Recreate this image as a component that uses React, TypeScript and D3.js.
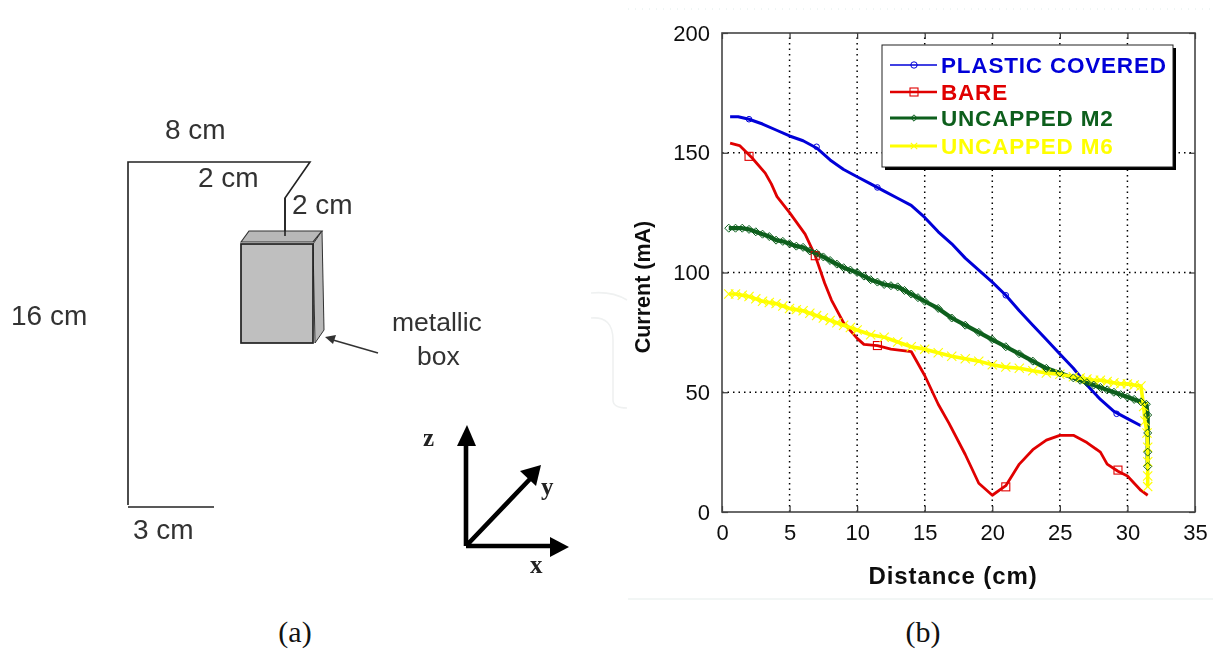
import { useEffect, useRef } from 'react';
import * as d3 from 'd3';

type Pt = [number, number];

const xTicks = [0, 5, 10, 15, 20, 25, 30, 35];
const yTicks = [0, 50, 100, 150, 200];

const plastic: Pt[] = [[0.6, 165], [1.2, 165], [2, 164], [3, 162], [4, 159.5], [5, 157], [6, 155], [7, 152], [8, 147], [9, 143], [10, 140], [11, 137], [12, 134], [13, 131], [14, 128], [15, 123], [16, 117], [17, 112], [18, 106], [19, 101], [20, 96], [21, 90.5], [22, 84], [23, 78], [24, 72], [25, 66], [26, 60], [27, 53], [28, 47], [29, 42], [30, 39], [31, 36]];
const plasticMarks: Pt[] = [[2, 164], [7, 152.5], [11.5, 135.5], [21, 90.5], [29.2, 41]];

const bare: Pt[] = [[0.6, 154], [1.3, 153], [2.2, 148], [3.2, 141.5], [3.65, 137], [4.07, 131.7], [5, 125], [6.15, 116], [6.9, 107], [7.6, 95.5], [8.1, 88.5], [9, 79], [10, 72.5], [10.5, 70], [11.5, 69.5], [12.5, 68], [14, 67], [15, 57], [16, 45], [16.8, 37], [18, 24], [19, 12], [20, 7], [21, 11], [22, 20], [23, 26], [24, 30], [25, 32], [26, 32], [27, 29], [28, 25], [28.5, 20], [29.3, 17], [30, 15], [31, 9], [31.5, 7]];
const bareMarks: Pt[] = [[2, 148.5], [6.9, 107], [11.5, 69.5], [21, 10.5], [29.3, 17.5]];

const m2: Pt[] = [[0.5, 118.5], [1, 118.5], [1.5, 118.5], [2, 118], [2.5, 117], [3, 116], [3.5, 115], [4, 113.5], [4.5, 113], [5, 112], [5.5, 111], [6, 110.5], [6.5, 109], [7, 108], [7.5, 106.5], [8, 105], [8.5, 103.5], [9, 102], [9.5, 101], [10, 100], [10.5, 98.5], [11, 97], [11.5, 96], [12, 95], [12.5, 94.5], [13, 94], [13.5, 92.5], [14, 91], [14.5, 89.5], [15, 88], [16, 85], [17, 81], [18, 78], [19, 75], [20, 72], [21, 69], [22, 66], [23, 63], [24, 60], [25, 58], [26, 56], [26.5, 55], [27, 54], [27.5, 53], [28, 52], [28.5, 51], [29, 50], [29.5, 49], [30, 48], [30.5, 47], [31, 46], [31.4, 45], [31.5, 40.5], [31.5, 33], [31.5, 25], [31.5, 19]];

const m6: Pt[] = [[0.5, 91], [1, 91], [1.5, 90.5], [2, 90], [2.5, 89], [3, 88], [3.5, 87.5], [4, 87], [4.5, 86], [5, 85], [5.5, 84.5], [6, 84], [6.5, 83], [7, 82], [7.5, 81], [8, 80], [8.5, 79], [9, 78], [9.5, 77], [10, 76], [11, 74], [12, 73], [13, 71], [14, 69], [15, 68], [16, 66.5], [17, 65], [18, 64], [19, 63], [20, 61.5], [21, 60.5], [22, 60], [23, 59], [24, 58], [25, 57.5], [26, 56.5], [26.5, 56], [27, 55.5], [27.5, 55], [28, 55], [28.5, 54.5], [29, 54], [29.5, 53.5], [30, 53.5], [30.5, 53], [31, 52.6], [31.2, 44], [31.3, 38], [31.45, 33], [31.5, 27], [31.5, 21], [31.5, 15], [31.5, 10.6]];

const seriesNames = ['PLASTIC COVERED', 'BARE', 'UNCAPPED M2', 'UNCAPPED M6'];
const seriesColors = ['#0000d8', '#e00000', '#0b5e1c', '#ffff00'];

const sans = '"Liberation Sans", Arial, sans-serif';
const serif = '"Liberation Serif", serif';

function drawMark(g: any, kind: string, x: number, y: number, color: string, r: number) {
  if (kind === 'circle') {
    g.append('circle').attr('cx', x).attr('cy', y).attr('r', r).attr('fill', 'none').attr('stroke', color).attr('stroke-width', 1);
  } else if (kind === 'square') {
    g.append('rect').attr('x', x - r).attr('y', y - r).attr('width', r * 2).attr('height', r * 2).attr('fill', 'none').attr('stroke', color).attr('stroke-width', 1.1);
  } else if (kind === 'diamond') {
    g.append('path').attr('d', `M${x},${y - r}L${x + r},${y}L${x},${y + r}L${x - r},${y}Z`).attr('fill', 'none').attr('stroke', color).attr('stroke-width', 1);
  } else {
    g.append('path').attr('d', `M${x - r},${y - r}L${x + r},${y + r}M${x - r},${y + r}L${x + r},${y - r}`).attr('fill', 'none').attr('stroke', color).attr('stroke-width', 1.1);
  }
}

export default function App() {
  const ref = useRef<SVGSVGElement>(null);

  useEffect(() => {
    const svg = d3.select(ref.current);
    svg.selectAll('*').remove();

    // slight softening, the source picture is an upscaled bitmap
    svg.append('defs').append('filter').attr('id', 'soft')
      .append('feGaussianBlur').attr('stdDeviation', 0.45);

    // --- panel (a): the schematic ---
    const a = svg.append('g').attr('filter', 'url(#soft)');
    a.append('path').attr('d', 'M128,505V162H310L285,198V236').attr('fill', 'none').attr('stroke', '#222').attr('stroke-width', 1.6);
    a.append('path').attr('d', 'M128,507H214').attr('stroke', '#222').attr('stroke-width', 1.6);
    a.append('path').attr('d', 'M241,242L249,231H322L313,242Z').attr('fill', '#b8b8b8').attr('stroke', '#333').attr('stroke-width', 1.2);
    a.append('path').attr('d', 'M313,244L322,231L324,330L315,343Z').attr('fill', '#b8b8b8').attr('stroke', '#333').attr('stroke-width', 1);
    a.append('rect').attr('x', 241).attr('y', 244).attr('width', 72).attr('height', 99).attr('fill', '#bfbfbf').attr('stroke', '#222').attr('stroke-width', 1.7);
    a.append('path').attr('d', 'M285,198V236').attr('stroke', '#222').attr('stroke-width', 1.6);
    a.append('path').attr('d', 'M378,353L333,340').attr('stroke', '#333').attr('stroke-width', 1.6);
    a.append('path').attr('d', 'M325,337L336,335L333,344Z').attr('fill', '#333');

    const labels: [string, number, number, number][] = [
      ['8 cm', 165, 139, 28], ['2 cm', 198, 187, 28], ['2 cm', 292, 214, 28],
      ['16 cm', 11, 325, 28], ['3 cm', 133, 539, 28], ['metallic', 392, 331, 26.5], ['box', 417, 365, 26.5],
    ];
    labels.forEach(([t, x, y, s]) => {
      a.append('text').attr('x', x).attr('y', y).attr('font-family', sans).attr('font-size', s).attr('fill', '#333').text(t);
    });

    // axes triad
    a.append('path').attr('d', 'M466,546V440M466,546H555M466,546L530,479').attr('fill', 'none').attr('stroke', '#000').attr('stroke-width', 4.6).attr('stroke-linejoin', 'round');
    a.append('path').attr('d', 'M467,425L476,446H457Z').attr('fill', '#000');
    a.append('path').attr('d', 'M569,547L550,557V537Z').attr('fill', '#000');
    a.append('path').attr('d', 'M541,465L536,486L520,471Z').attr('fill', '#000');
    ([['z', 423, 446], ['y', 541, 495], ['x', 530, 573]] as [string, number, number][]).forEach(([t, x, y]) => {
      a.append('text').attr('x', x).attr('y', y).attr('font-family', serif).attr('font-weight', 700).attr('font-size', 25).attr('fill', '#222').text(t);
    });

    // --- panel (b): current vs distance ---
    const left = 722, right = 1195, top = 33, bottom = 512;
    const x = d3.scaleLinear().domain([0, 35]).range([left, right]);
    const y = d3.scaleLinear().domain([0, 200]).range([bottom, top]);

    const b = svg.append('g').attr('filter', 'url(#soft)');
    b.append('line').attr('x1', 628).attr('x2', 1213).attr('y1', 9).attr('y2', 9).attr('stroke', '#dfecea').attr('stroke-dasharray', '1 6');
    b.append('line').attr('x1', 628).attr('x2', 1213).attr('y1', 599).attr('y2', 599).attr('stroke', '#eef3f2').attr('stroke-width', 1.5);
    // faint watermark remains at the panel edge
    b.append('path').attr('d', 'M591,293Q612,291 627,300M591,318Q613,316 613,340V400Q613,408 627,408').attr('fill', 'none').attr('stroke', '#eff1f1').attr('stroke-width', 1.6);

    // grid
    const grid = b.append('g').attr('stroke', '#000').attr('stroke-dasharray', '1.5 4').attr('stroke-width', 1.5);
    xTicks.slice(1, -1).forEach(t => {
      grid.append('line').attr('x1', x(t)).attr('x2', x(t)).attr('y1', bottom).attr('y2', top);
    });
    yTicks.slice(1, -1).forEach(t => {
      grid.append('line').attr('x1', left).attr('x2', right).attr('y1', y(t)).attr('y2', y(t));
    });

    const styleAxis = (g: any) => {
      g.select('.domain').remove();
      g.selectAll('line').attr('stroke', '#333').attr('stroke-width', 1.2);
      g.selectAll('text').attr('font-family', sans).attr('font-size', 22).attr('fill', '#111');
    };

    b.append('g').attr('transform', `translate(0,${bottom})`)
      .call(d3.axisBottom(x).tickValues(xTicks).tickSize(-6).tickPadding(12).tickFormat(d3.format('d')) as any)
      .call(styleAxis);
    b.append('g').attr('transform', `translate(0,${top})`)
      .call(d3.axisTop(x).tickValues(xTicks).tickSize(-6).tickFormat(() => '') as any)
      .call(styleAxis);
    b.append('g').attr('transform', `translate(${left},0)`)
      .call(d3.axisLeft(y).tickValues(yTicks).tickSize(-6).tickPadding(12).tickFormat(d3.format('d')) as any)
      .call(styleAxis);
    b.append('g').attr('transform', `translate(${right},0)`)
      .call(d3.axisRight(y).tickValues(yTicks).tickSize(-6).tickFormat(() => '') as any)
      .call(styleAxis);
    b.append('rect').attr('x', left).attr('y', top).attr('width', right - left).attr('height', bottom - top)
      .attr('fill', 'none').attr('stroke', '#444').attr('stroke-width', 1.6);

    // series
    const line = d3.line<Pt>().x(d => x(d[0])).y(d => y(d[1]));
    const curves: [Pt[], string, number][] = [
      [plastic, seriesColors[0], 3],
      [bare, seriesColors[1], 2.8],
      [m2, seriesColors[2], 4.2],
      [m6, seriesColors[3], 3.6],
    ];
    const marks = b.append('g');
    curves.forEach(([pts, color, w]) => {
      marks.append('path').attr('d', line(pts)).attr('fill', 'none').attr('stroke', color).attr('stroke-width', w).attr('stroke-linejoin', 'round');
    });
    plasticMarks.forEach(d => drawMark(marks, 'circle', x(d[0]), y(d[1]), seriesColors[0], 2.8));
    bareMarks.forEach(d => drawMark(marks, 'square', x(d[0]), y(d[1]), seriesColors[1], 4));
    m6.forEach(d => drawMark(marks, 'cross', x(d[0]), y(d[1]), seriesColors[3], 4.6));
    m2.forEach(d => drawMark(marks, 'diamond', x(d[0]), y(d[1]), seriesColors[2], 4));

    // axis titles
    b.append('text').attr('x', 953).attr('y', 584).attr('text-anchor', 'middle').attr('font-family', sans).attr('font-weight', 700).attr('font-size', 24).attr('letter-spacing', 0.9).attr('fill', '#111').text('Distance (cm)');
    b.append('text').attr('transform', 'translate(650,287) rotate(-90)').attr('text-anchor', 'middle').attr('font-family', sans).attr('font-weight', 700).attr('font-size', 21.5).attr('fill', '#111').text('Current (mA)');

    // legend
    const legend = b.append('g');
    legend.append('rect').attr('x', 885).attr('y', 48).attr('width', 291).attr('height', 122).attr('fill', '#000');
    legend.append('rect').attr('x', 882).attr('y', 45).attr('width', 291).attr('height', 122).attr('fill', '#fff').attr('stroke', '#222').attr('stroke-width', 1);
    const rowY = [65, 92, 118, 146];
    const kinds = ['circle', 'square', 'diamond', 'cross'];
    const rowW = [1.5, 2.6, 3, 3];
    seriesNames.forEach((name, i) => {
      legend.append('line').attr('x1', 890).attr('x2', 937).attr('y1', rowY[i]).attr('y2', rowY[i]).attr('stroke', seriesColors[i]).attr('stroke-width', rowW[i]);
      drawMark(legend, kinds[i], 914, rowY[i], seriesColors[i], i === 1 ? 4 : 3.2);
      legend.append('text').attr('x', 941).attr('y', rowY[i] + 8).attr('font-family', sans).attr('font-weight', 700).attr('font-size', 22.5).attr('letter-spacing', 0.8).attr('fill', seriesColors[i]).text(name);
    });

    // captions
    ([['(a)', 295], ['(b)', 923]] as [string, number][]).forEach(([t, cx]) => {
      svg.append('text').attr('x', cx).attr('y', 642).attr('text-anchor', 'middle').attr('font-family', serif).attr('font-size', 30).attr('fill', '#111').text(t);
    });
  }, []);

  return (
    <svg ref={ref} width={1213} height={650} style={{ position: 'absolute', left: 0, top: 0, background: '#fff' }} />
  );
}
